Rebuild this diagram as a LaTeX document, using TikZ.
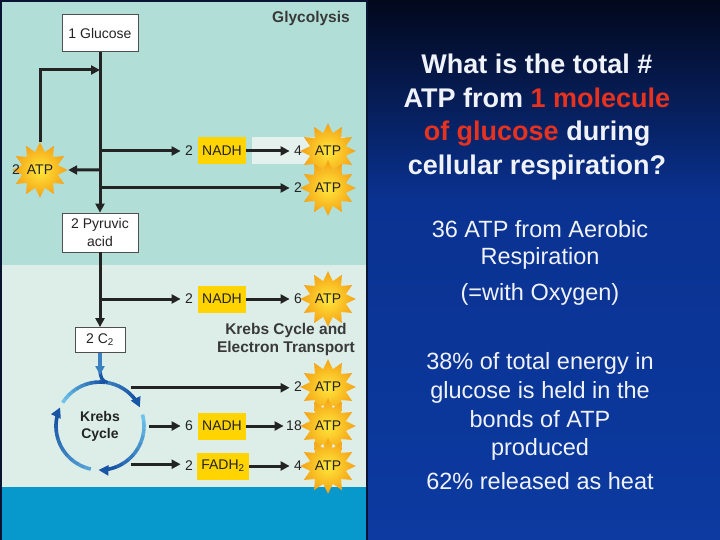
\documentclass[tikz,border=0pt]{standalone}
\usepackage{fontspec}
\setmainfont{Liberation Sans}
\usetikzlibrary{arrows.meta,shapes.geometric}
\definecolor{glyco}{RGB}{177,222,214}
\definecolor{krebsbg}{RGB}{221,238,233}
\definecolor{band}{RGB}{8,153,204}
\definecolor{strip}{RGB}{228,241,237}
\definecolor{nadhY}{RGB}{255,212,0}
\definecolor{starIn}{RGB}{255,232,60}
\definecolor{starOut}{RGB}{245,160,20}
\definecolor{ink}{RGB}{35,35,35}
\definecolor{klight}{RGB}{110,195,235}
\definecolor{kdark}{RGB}{25,85,165}
\definecolor{slideTop}{RGB}{2,8,28}
\definecolor{slideMid}{RGB}{10,50,145}
\definecolor{slideBot}{RGB}{12,58,160}
\definecolor{qred}{RGB}{230,50,30}
\definecolor{qwhite}{RGB}{240,242,250}
\definecolor{frame}{RGB}{10,20,50}
\newcommand\kseg[3]{%
  \foreach \i in {0,...,9}{%
    \pgfmathsetmacro\ksa{#1+(#2-#1)*\i/10}%
    \pgfmathsetmacro\kea{#1+(#2-#1)*(\i+1)/10+0.6}%
    \pgfmathsetmacro\kpc{#3*(1-\i/9)}%
    \draw[line width=3.6pt, color=klight!\kpc!kdark] ([shift={(\ksa:44)}]kc) arc[start angle=\ksa, end angle=\kea, radius=44];
  }}
\newcommand\ktip[1]{%
  \pgfmathsetmacro\ksa{#1-14}%
  \draw[kdark, line width=3.6pt, -{Triangle[length=10pt,width=10pt]}] ([shift={(\ksa:44)}]kc) arc[start angle=\ksa, end angle=#1, radius=44];}
\begin{document}
\begin{tikzpicture}[x=1pt,y=-1pt,
  box/.style={draw=ink!80, fill=white, line width=0.8pt, text=ink, font=\fontsize{14}{18}\selectfont, align=center, inner sep=0pt},
  ybox/.style={fill=nadhY, text=ink, font=\fontsize{14}{15}\selectfont, minimum height=27pt, minimum width=48pt, inner sep=0pt},
  numr/.style={text=ink, font=\fontsize{14}{15}\selectfont, text width=10pt, align=right, inner xsep=2pt, inner ysep=1pt, anchor=east},
  atp/.style={star, star points=12, star point ratio=1.5, minimum size=41pt, inner sep=0pt, inner color=starIn, outer color=starOut, text=ink, font=\fontsize{14}{15}\selectfont},
  flow/.style={line width=3pt, ink},
  arr/.style={flow, -{Triangle[length=9pt,width=9pt]}},
  ttl/.style={text=qwhite, font=\fontsize{27}{30}\bfseries\selectfont, anchor=base},
  body/.style={text=qwhite, font=\fontsize{23.5}{28}\selectfont, anchor=base},
  hdr/.style={text=ink!90, font=\fontsize{15.5}{18}\bfseries\selectfont, align=center}
]
\useasboundingbox (0,0) rectangle (720,540);
% slide background
\shade[top color=slideTop, bottom color=slideMid] (0,0) rectangle (720,200);
\shade[top color=slideMid, bottom color=slideBot] (0,199.5) rectangle (720,540);
% left panel
\fill[glyco] (1.5,1.5) rectangle (366,265);
\fill[krebsbg] (1.5,265) rectangle (366,487);
\fill[band] (1.5,487) rectangle (366,540);
\draw[frame, line width=2pt] (1,540) -- (1,1) -- (367,1) -- (367,540);
\fill[strip] (252,137) rectangle (345,164);

% headings
\node[hdr] (glyh) at (311,18) {Glycolysis};
\node[hdr] (kreh) at (286,339) {Krebs Cycle and\\Electron Transport};

% boxes on main line
\node[box, minimum width=76pt, minimum height=37pt] (glu) at (100,33) {1 Glucose};
\node[box, minimum width=76pt, minimum height=39pt] (pyr) at (100,232.5) {2 Pyruvic\\acid};
\node[box, minimum width=50pt, minimum height=25pt] (c2) at (100,340) {2 C\textsubscript{2}};

\coordinate (j1) at (100,70);
\coordinate (j2) at (100,151);
\coordinate (j3) at (100,170);
\coordinate (j4) at (100,188);
\coordinate (j5) at (100,299);
\coordinate (kc) at (100,426);
\coordinate (kin) at (100,375);

% glycolysis rows
\node[numr] (n1) at (195,151) {2};
\node[ybox] (nadh1) at (222,151) {NADH};
\node[numr] (n2) at (304,151) {4};
\node[atp] (a1) at (328,151) {ATP};
\node[atp] (a0) at (40,170) {ATP};
\node[text=ink, font=\fontsize{14}{15}\selectfont] (n0) at (16,170) {2};
\node[numr] (n3) at (304,188) {2};
\node[atp] (a2) at (328,188) {ATP};

% pyruvate row
\node[numr] (n4) at (195,299) {2};
\node[ybox] (nadh2) at (222,299) {NADH};
\node[numr] (n5) at (304,299) {6};
\node[atp] (a3) at (328,299) {ATP};

% krebs
\node[circle, minimum size=98pt, inner sep=0pt, text=ink, font=\fontsize{14}{17}\bfseries\selectfont, align=center] (kreb) at (kc) {Krebs\\Cycle};
\node[numr] (n6) at (304,387) {2};
\node[atp] (a4) at (328,387) {ATP};
\node[numr] (n7) at (195,426) {6};
\node[ybox] (nadh3) at (222,426) {NADH};
\node[numr, text width=16pt] (n8) at (304,426) {18};
\node[atp] (a5) at (328,426) {ATP};
\node[numr] (n9) at (195,466) {2};
\node[ybox, minimum width=52pt] (fadh) at (223,466) {FADH\textsubscript{2}};
\node[numr] (n10) at (304,466) {4};
\node[atp] (a6) at (328,466) {ATP};

% connectors
\draw[arr] (glu) -- (pyr);
\draw[arr] (a0) |- (j1);
\draw[arr] (j2) -- (n1.west);
\draw[arr] (nadh1) -- (n2.west);
\draw[arr] (j3) -- (a0);
\draw[arr] (j4) -- (n3.west);
\draw[arr] (pyr) -- (c2);
\draw[arr] (j5) -- (n4.west);
\draw[arr] (nadh2) -- (n5.west);
\draw[arr] (kreb.51) -- (kreb.51 -| n6.west);
\draw[arr] (kreb.0) -- (n7.west);
\draw[arr] (nadh3) -- (n8.west);
\draw[arr] (kreb.-51) -- (kreb.-51 -| n9.west);
\draw[arr] (fadh) -- (n10.west);

% krebs cycle ring
\kseg{278}{321}{40}
\ktip{335}
\kseg{345}{438}{100}
\ktip{452}
\kseg{102}{191}{70}
\ktip{205}
\kseg{212}{276}{100}
\draw[line width=3.4pt, kdark] (100,368) .. controls (100,378) and (102,381) .. ([shift={(280:44)}]kc);
\draw[line width=3.4pt, color=klight!40!kdark, -{Triangle[length=9pt,width=9pt]}] (c2) -- (kin);

% right text
\node[ttl] (t1) at (537,74) {What is the total \#};
\node[ttl] (t2) at (537,108) {ATP from \textcolor{qred}{1 molecule}};
\node[ttl] (t3) at (537,141) {\textcolor{qred}{of glucose} during};
\node[ttl] (t4) at (537,175) {cellular respiration?};
\node[body] (b1) at (540,237) {36 ATP from Aerobic};
\node[body] (b2) at (540,264) {Respiration};
\node[body] (b3) at (540,300) {(=with Oxygen)};
\node[body] (b4) at (540,369) {38\% of total energy in};
\node[body] (b5) at (540,398) {glucose is held in the};
\node[body] (b6) at (540,427) {bonds of ATP};
\node[body] (b7) at (540,455) {produced};
\node[body] (b8) at (540,489) {62\% released as heat};
\end{tikzpicture}
\end{document}
